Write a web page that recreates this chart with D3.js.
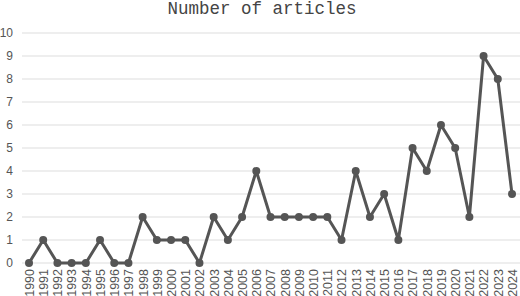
<!DOCTYPE html>
<html>
<head>
<meta charset="utf-8">
<script src="https://cdn.jsdelivr.net/npm/d3@7"></script>
<style>
  body { margin: 0; background: #fff; }
</style>
</head>
<body>
<div id="chart"></div>
<script>
var years = [1990,1991,1992,1993,1994,1995,1996,1997,1998,1999,2000,2001,2002,2003,2004,2005,2006,2007,2008,2009,2010,2011,2012,2013,2014,2015,2016,2017,2018,2019,2020,2021,2022,2023,2024];
var articles = [0,1,0,0,0,1,0,0,2,1,1,1,0,2,1,2,4,2,2,2,2,2,1,4,2,3,1,5,4,6,5,2,9,8,3];
var yTicks = [0,1,2,3,4,5,6,7,8,9,10];

var width = 520, height = 296;

var svg = d3.select("#chart").append("svg")
    .attr("width", width)
    .attr("height", height);

var x = d3.scalePoint()
    .domain(years)
    .range([29, 512]);

var y = d3.scaleLinear()
    .domain([0, 10])
    .range([263, 33]);

//Title
svg.append("text")
    .attr("x", 262)
    .attr("y", 14)
    .attr("text-anchor", "middle")
    .style("font-family", "Liberation Mono, monospace")
    .style("font-size", "17.5px")
    .style("fill", "#444")
    .text("Number of articles");

//Grid lines
svg.append("g")
    .selectAll("line")
    .data(yTicks)
    .enter().append("line")
    .attr("x1", 22)
    .attr("x2", width)
    .attr("y1", function(d){ return y(d); })
    .attr("y2", function(d){ return y(d); })
    .style("stroke", "#ddd")
    .style("stroke-width", 1);

//Y axis
var yAxis = svg.append("g")
    .attr("transform", "translate(14,0)")
    .call(d3.axisLeft(y).tickValues(yTicks).tickSize(0).tickPadding(1));
yAxis.select(".domain").remove();
yAxis.selectAll("text")
    .style("font-family", "Liberation Sans, Arial, sans-serif")
    .style("font-size", "12px")
    .style("fill", "#555");

//X axis
var xAxis = svg.append("g")
    .attr("transform", "translate(0,266)")
    .call(d3.axisBottom(x).tickSize(0));
xAxis.select(".domain").remove();
xAxis.selectAll("text")
    .attr("transform", "rotate(-90)")
    .attr("x", -3)
    .attr("y", 0)
    .attr("dy", "0.35em")
    .attr("text-anchor", "end")
    .style("font-family", "Liberation Sans, Arial, sans-serif")
    .style("font-size", "12.5px")
    .style("fill", "#555");

//Line
var line = d3.line()
    .x(function(d, i){ return x(years[i]); })
    .y(function(d){ return y(d); });

svg.append("path")
    .datum(articles)
    .attr("d", line)
    .style("fill", "none")
    .style("stroke", "#555")
    .style("stroke-width", 3)
    .style("stroke-linejoin", "round");

svg.append("g")
    .selectAll("circle")
    .data(articles)
    .enter().append("circle")
    .attr("cx", function(d, i){ return x(years[i]); })
    .attr("cy", function(d){ return y(d); })
    .attr("r", 4)
    .style("fill", "#555");
</script>
</body>
</html>
